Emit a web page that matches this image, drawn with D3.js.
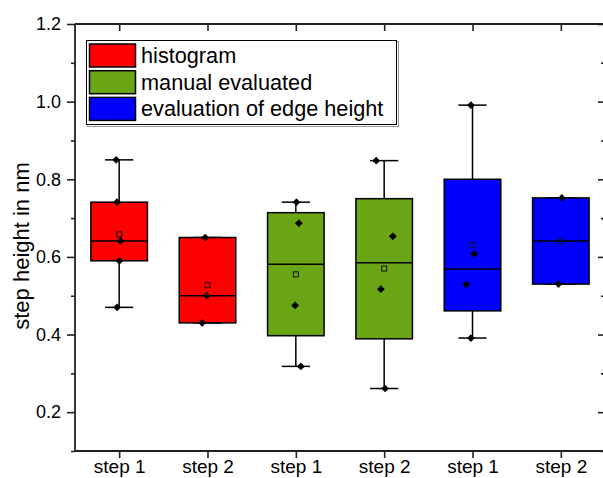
<!DOCTYPE html>
<html><head><meta charset="utf-8">
<script src="https://cdn.jsdelivr.net/npm/d3@7"></script>
<style>
html,body{margin:0;padding:0;background:#fff;}
svg{display:block;font-family:"Liberation Sans",Arial,sans-serif;}
</style></head>
<body><svg id="c" width="603" height="478"></svg>
<script>
const categories = ["step 1","step 2","step 1","step 2","step 1","step 2"];
const seriesNames = ["histogram","manual evaluated","evaluation of edge height"];
const seriesColors = ["#ff0000","#6aa516","#0000ff"];
const seriesOfBox = [0,0,1,1,2,2];
const whiskerLow  = [0.470,0.430,0.318,0.261,0.391,0.530];
const q1          = [0.590,0.430,0.397,0.389,0.461,0.530];
const median      = [0.641,0.500,0.581,0.585,0.569,0.641];
const q3          = [0.741,0.650,0.714,0.750,0.800,0.752];
const whiskerHigh = [0.850,0.650,0.741,0.848,0.991,0.752];
const means       = [0.658,0.527,0.555,0.570,0.630,0.641];
const points = [
  [0.850,0.741,0.641,0.590,0.470],
  [0.650,0.500,0.430],
  [0.741,0.687,0.475,0.318],
  [0.848,0.653,0.517,0.261],
  [0.991,0.608,0.529,0.391],
  [0.752,0.530]
];
const jitter = [
  [-0.034,-0.026,0.015,0.003,-0.023],
  [-0.026,-0.007,-0.060],
  [0.007,0.034,-0.008,0.057],
  [-0.09,0.098,-0.037,0.011],
  [-0.018,0.019,-0.071,-0.018],
  [0.011,-0.027]
];
const yMajorTicks = [0.2,0.4,0.6,0.8,1.0,1.2];
const yMinorTicks = [0.1,0.3,0.5,0.7,0.9,1.1];

const svg = d3.select("#c");
const L = 75, R = 605, T = 24, B = 451;
const idx = d3.range(categories.length);
const x = d3.scalePoint().domain(idx).range([L, R]).padding(0.5);
const step = x.step();
const y = d3.scaleLinear().domain([0.1, 1.2]).range([B, T]);
const axisColor = "#222";
const boxW = step * 0.64;

// boxes
const g = svg.append("g");
idx.forEach(i => {
  const cx = x(i);
  const col = seriesColors[seriesOfBox[i]];
  g.append("line").attr("x1",cx).attr("x2",cx).attr("y1",y(q3[i])).attr("y2",y(whiskerHigh[i]))
    .attr("stroke","#000").attr("stroke-width",1.5);
  g.append("line").attr("x1",cx).attr("x2",cx).attr("y1",y(q1[i])).attr("y2",y(whiskerLow[i]))
    .attr("stroke","#000").attr("stroke-width",1.5);
  [whiskerHigh[i], whiskerLow[i]].forEach(v => {
    g.append("line").attr("x1",cx-boxW/4).attr("x2",cx+boxW/4).attr("y1",y(v)).attr("y2",y(v))
      .attr("stroke","#000").attr("stroke-width",1.5);
  });
  g.append("rect").attr("x",cx-boxW/2).attr("width",boxW)
    .attr("y",y(q3[i])).attr("height",y(q1[i])-y(q3[i]))
    .attr("fill",col).attr("stroke","#000").attr("stroke-width",1.5);
  g.append("line").attr("x1",cx-boxW/2).attr("x2",cx+boxW/2).attr("y1",y(median[i])).attr("y2",y(median[i]))
    .attr("stroke","#000").attr("stroke-width",1.5);
  g.append("rect").attr("x",cx-2.5).attr("y",y(means[i])-2.5).attr("width",5).attr("height",5)
    .attr("fill","none").attr("stroke","#111").attr("stroke-width",1);
  points[i].forEach((v,j) => {
    g.append("path").attr("d", d3.symbol().type(d3.symbolSquare).size(30)())
      .attr("transform",`translate(${cx + jitter[i][j]*step},${y(v)}) rotate(45)`)
      .attr("fill","#000");
  });
});

// axes
const yAx = svg.append("g").attr("transform",`translate(${L},0)`)
  .call(d3.axisLeft(y).tickValues(yMajorTicks).tickFormat(d3.format(".1f")).tickSize(8).tickPadding(6));
yAx.selectAll("text").attr("font-size","18px").attr("fill","#000").attr("font-family","Liberation Sans, Arial, sans-serif");
const yMin = svg.append("g").attr("transform",`translate(${L},0)`)
  .call(d3.axisLeft(y).tickValues(yMinorTicks).tickFormat("").tickSize(4));
const yR = svg.append("g").attr("transform",`translate(${R},0)`)
  .call(d3.axisLeft(y).tickValues(yMajorTicks).tickFormat("").tickSize(7));
const yRm = svg.append("g").attr("transform",`translate(${R},0)`)
  .call(d3.axisLeft(y).tickValues(yMinorTicks).tickFormat("").tickSize(4));
const xAx = svg.append("g").attr("transform",`translate(0,${B})`)
  .call(d3.axisBottom(x).tickFormat(i => categories[i]).tickSize(7).tickPadding(5));
xAx.selectAll("text").attr("font-size","19px").attr("fill","#000").attr("font-family","Liberation Sans, Arial, sans-serif")
  .attr("dy",null).attr("y",22).attr("dominant-baseline","auto");
const xTop = svg.append("g").attr("transform",`translate(0,${T})`)
  .call(d3.axisBottom(x).tickFormat("").tickSize(7));
[yAx,yMin,yR,yRm,xAx,xTop].forEach(a => {
  a.select(".domain").remove();
  a.selectAll("line").attr("stroke",axisColor).attr("stroke-width",1.6);
});
svg.append("line").attr("x1",L).attr("x2",R).attr("y1",T).attr("y2",T).attr("stroke",axisColor).attr("stroke-width",1.8);
svg.append("line").attr("x1",L).attr("x2",R).attr("y1",B).attr("y2",B).attr("stroke",axisColor).attr("stroke-width",1.8);
svg.append("line").attr("x1",L).attr("x2",L).attr("y1",T).attr("y2",B).attr("stroke",axisColor).attr("stroke-width",1.8);
svg.append("line").attr("x1",R).attr("x2",R).attr("y1",T).attr("y2",B).attr("stroke",axisColor).attr("stroke-width",1.8);

// y title
svg.append("text").attr("transform",`translate(29,246) rotate(-90)`).attr("text-anchor","middle")
  .attr("font-size","22px").attr("fill","#000").text("step height in nm");

// legend
const lg = svg.append("g");
lg.append("rect").attr("x",87.5).attr("y",41.5).attr("width",311).attr("height",85).attr("fill","none").attr("stroke","#999").attr("stroke-width",1);
lg.append("rect").attr("x",86.5).attr("y",40.5).attr("width",310).attr("height",84).attr("fill","#fff").attr("stroke","#000").attr("stroke-width",1);
seriesNames.forEach((n,k) => {
  const yy = 44 + k*26.7;
  lg.append("rect").attr("x",89.5).attr("y",yy).attr("width",46).attr("height",23)
    .attr("fill",seriesColors[k]).attr("stroke","#000").attr("stroke-width",1.5);
  lg.append("text").attr("x",141).attr("y",yy+19).attr("font-size","21.7px").attr("fill","#000").text(n);
});
</script></body></html>
